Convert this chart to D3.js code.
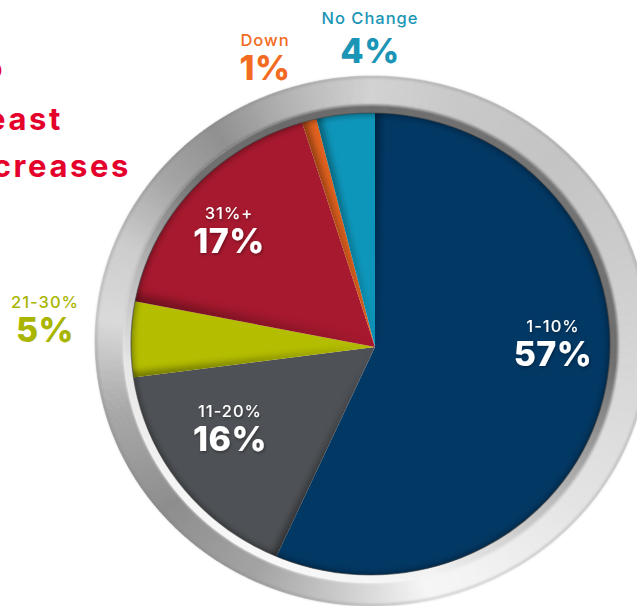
<!DOCTYPE html>
<html><head><meta charset="utf-8">
<script src="https://cdn.jsdelivr.net/npm/d3@7"></script>
<style>
html,body{margin:0;padding:0;background:#fff;overflow:hidden;}
svg{display:block;}
</style>
</head><body><div id="chart"></div>
<script>
// Survey answer shares (percent), drawn clockwise from 12 o'clock
const categories = ["1-10%", "11-20%", "21-30%", "31%+", "Down", "No Change"];
const values = [57, 16, 5, 17, 1, 4];
const valueLabels = ["57%", "16%", "5%", "17%", "1%", "4%"];
const sliceColors = ["#023864", "#4e5155", "#b4bd00", "#a6192e", "#e2621f", "#0e96ba"];
const titleLines = ["to", "at least", "increases"];

const W = 637, H = 606;
const FONT = "Inter, 'Open Sans', 'Noto Sans', sans-serif";

const svg = d3.select("#chart").append("svg")
  .attr("width", W).attr("height", H).attr("viewBox", `0 0 ${W} ${H}`);
const defs = svg.append("defs");

// geometry of the dial
const hub = {x: 375, y: 347};                                  // where slices meet
const face = {cx: 370.5, cy: 344, rx: 239.5, ry: 231};          // coloured face
const rim = {cx: 372, cy: 341, rx: 277, ry: 265};               // outer metal edge
const lipW = 8;

const pt = (e, th, d = 0) => [e.cx + (e.rx + d) * Math.sin(th), e.cy - (e.ry + d) * Math.cos(th)];
const ellipsePath = (e, d = 0) => {
  const rx = e.rx + d, ry = e.ry + d;
  return `M${e.cx - rx},${e.cy}A${rx},${ry} 0 1 1 ${e.cx + rx},${e.cy}A${rx},${ry} 0 1 1 ${e.cx - rx},${e.cy}Z`;
};

// filters
const blur = (id, s) => defs.append("filter").attr("id", id)
  .attr("x", "-20%").attr("y", "-20%").attr("width", "140%").attr("height", "140%")
  .append("feGaussianBlur").attr("stdDeviation", s);
blur("soft1", 1.1);
blur("soft3", 3.5);
blur("soft6", 6);

const txtShadow = defs.append("filter").attr("id", "txtShadow")
  .attr("x", "-20%").attr("y", "-30%").attr("width", "140%").attr("height", "160%");
txtShadow.append("feDropShadow").attr("dx", 1).attr("dy", 1.5).attr("stdDeviation", 1.5)
  .attr("flood-color", "#000").attr("flood-opacity", 0.35);

// ---- metal ring: conic shading built from thin angular segments ----
const ringShade = d3.scaleLinear()
  .domain([0, 20, 45, 70, 100, 130, 155, 168, 185, 205, 230, 255, 275, 292, 310, 325, 343, 360])
  .range(["#d2d2d2", "#c8c8c8", "#c4c4c4", "#cccccc", "#d8d8d8", "#e4e4e4", "#f2f2f2", "#f6f6f6",
          "#cfcfcf", "#a4a4a4", "#8d8d8d", "#a9a9a9", "#dadada", "#cdcdcd", "#a4a4a4", "#909090",
          "#b6b6b6", "#d2d2d2"])
  .interpolate(d3.interpolateRgb);

const lipShade = d3.scaleLinear()
  .domain([0, 45, 95, 130, 165, 200, 235, 265, 290, 315, 340, 360])
  .range(["#6c6c6c", "#747474", "#6e6e6e", "#b8b8b8", "#f2f2f2", "#f8f8f8", "#f4f4f4", "#e6e6e6",
          "#b4b4b4", "#707070", "#6a6a6a", "#6c6c6c"])
  .interpolate(d3.interpolateRgb);

const seg = d3.range(0, 360, 0.5);
const rad = d => d * Math.PI / 180;
const line = d3.line();

function band(g, outerE, outerD, innerE, innerD, shade) {
  g.selectAll("path").data(seg).join("path")
    .attr("d", d => {
      const a0 = rad(d), a1 = rad(d + 0.6);
      return line([pt(outerE, a0, outerD), pt(outerE, a1, outerD),
                   pt(innerE, a1, innerD), pt(innerE, a0, innerD)]) + "Z";
    })
    .attr("fill", d => shade(d + 0.25))
    .attr("stroke", d => shade(d + 0.25))
    .attr("stroke-width", 0.4);
}

const ringG = svg.append("g");
band(ringG.append("g"), rim, 0, face, lipW, ringShade);
// soft dark edge on the outside of the rim
svg.append("path").attr("d", ellipsePath(rim, -1)).attr("fill", "none")
  .attr("stroke", "#7a7a7a").attr("stroke-opacity", 0.35).attr("stroke-width", 2).attr("filter", "url(#soft1)");
const lipG = svg.append("g").attr("filter", "url(#soft1)");
band(lipG, face, lipW, face, -2, lipShade);

// ---- pie face ----
const pie = d3.pie().sort(null).value(d => d)(values);
const arc = d3.arc().innerRadius(0).outerRadius(330);

defs.append("clipPath").attr("id", "faceClip").append("path").attr("d", ellipsePath(face));
const faceG = svg.append("g").attr("clip-path", "url(#faceClip)");
const sliceG = faceG.append("g").attr("transform", `translate(${hub.x},${hub.y})`);

sliceG.selectAll("path.slice").data(pie).join("path")
  .attr("class", "slice")
  .attr("d", arc)
  .attr("fill", (d, i) => sliceColors[i]);

// soft shading along the leading edge of every slice
pie.forEach((d, i) => {
  const id = "sl" + i;
  defs.append("clipPath").attr("id", id).append("path")
    .attr("transform", `translate(${hub.x},${hub.y})`).attr("d", arc(d));
  const edge = d3.arc().innerRadius(0).outerRadius(330)({startAngle: d.startAngle - 0.02, endAngle: d.startAngle + 0.02});
  faceG.append("g").attr("clip-path", `url(#${id})`)
    .append("path")
    .attr("transform", `translate(${hub.x},${hub.y})`)
    .attr("d", edge)
    .attr("fill", "#000").attr("opacity", i === 3 ? 0.55 : 0.4)
    .attr("filter", i === 3 ? "url(#soft6)" : "url(#soft3)");
});

// shadow where the face meets the rim
faceG.append("path").attr("d", ellipsePath(face, 2)).attr("fill", "none")
  .attr("stroke", "#000").attr("stroke-opacity", 0.55).attr("stroke-width", 5).attr("filter", "url(#soft3)");
svg.append("path").attr("d", ellipsePath(face)).attr("fill", "none")
  .attr("stroke", "#3d3d3d").attr("stroke-opacity", 0.6).attr("stroke-width", 1.2);

// ---- labels ----
const labelPos = [
  {x: 553, y: 332, inside: true},
  {x: 230, y: 417, inside: true},
  {x: 45, y: 308, inside: false, color: "#a9b500"},
  {x: 229, y: 219, inside: true},
  {x: 265, y: 46, inside: false, color: "#f26b21"},
  {x: 370, y: 24, inside: false, color: "#1a95b6"}
];
const labelG = svg.append("g").attr("font-family", FONT).attr("text-anchor", "middle");
categories.forEach((c, i) => {
  const p = labelPos[i];
  const col = p.inside ? "#fff" : p.color;
  const g = labelG.append("g").attr("filter", p.inside ? "url(#txtShadow)" : null);
  g.append("text").attr("x", p.x).attr("y", p.y)
    .attr("font-size", 16.5).attr("font-weight", 500).attr("fill", col)
    .attr("letter-spacing", 1).text(c);
  g.append("text").attr("x", p.x).attr("y", p.y + (i === 5 ? 39 : 34))
    .attr("font-size", 34).attr("font-weight", 800).attr("fill", col)
    .attr("letter-spacing", 0.5)
    .text(valueLabels[i]);
});

// ---- heading (runs off the left edge) ----
const titleG = svg.append("g").attr("font-family", FONT).attr("font-weight", 700)
  .attr("font-size", 31).attr("fill", "#e4002b").attr("text-anchor", "end");
const titleX = [5, 63, 131], titleY = [79, 130, 177];
titleLines.forEach((t, i) => {
  titleG.append("text").attr("x", titleX[i]).attr("y", titleY[i]).attr("letter-spacing", 2.6).text(t);
});
</script>
</body></html>
